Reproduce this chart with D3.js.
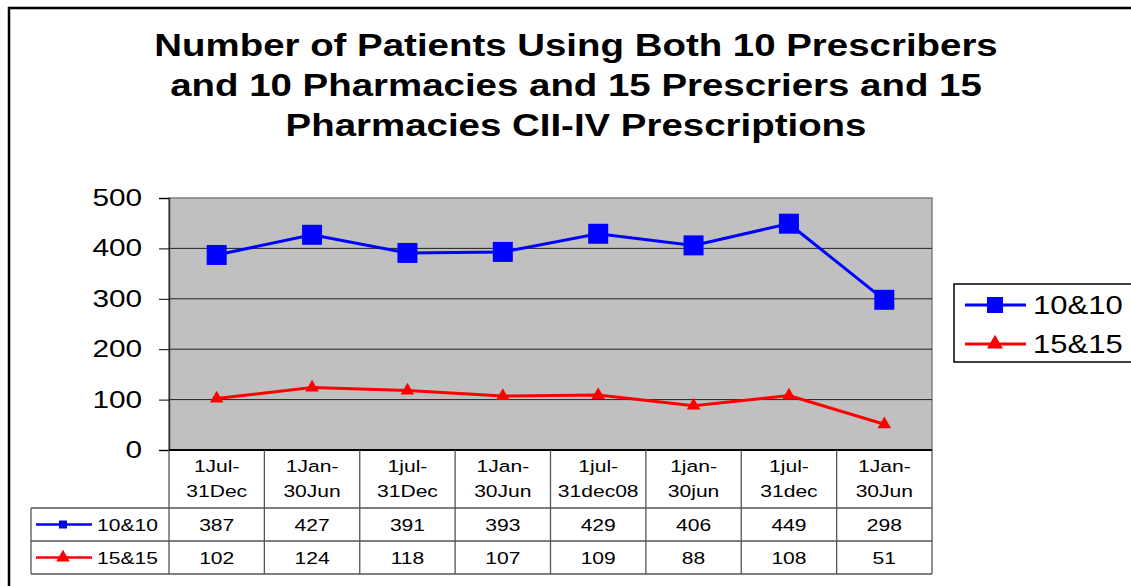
<!DOCTYPE html>
<meta charset="utf-8">
<style>
    body { margin: 0; background: #fff; }
    text { font-family: "Liberation Sans", Arial, sans-serif; fill: #000; }
    .grid line { stroke: #222; stroke-width: 1px; }
    .tbl line { stroke: #555; stroke-width: 1.3px; }
</style>
<svg width="1131" height="586"></svg>
<script src="https://cdnjs.cloudflare.com/ajax/libs/d3/7.8.5/d3.min.js"></script>
<script>

    var titleLines = ["Number of Patients Using Both 10 Prescribers",
        "and 10 Pharmacies and 15 Prescriers and 15",
        "Pharmacies CII-IV Prescriptions"];
    var categories = [["1Jul-", "31Dec"], ["1Jan-", "30Jun"], ["1jul-", "31Dec"], ["1Jan-", "30Jun"],
        ["1jul-", "31dec08"], ["1jan-", "30jun"], ["1jul-", "31dec"], ["1Jan-", "30Jun"]];
    var seriesNames = ["10&10", "15&15"];
    var values1010 = [387, 427, 391, 393, 429, 406, 449, 298];
    var values1515 = [102, 124, 118, 107, 109, 88, 108, 51];
    var yTicks = [0, 100, 200, 300, 400, 500];

    var series = [
        { name: seriesNames[0], values: values1010, color: "#0000ff", marker: "square" },
        { name: seriesNames[1], values: values1515, color: "#ff0000", marker: "triangle" }
    ];

    var svg = d3.select("svg");

    var plotL = 169, plotR = 932, plotT = 198, plotB = 450;
    var sx = 1.24; // the original text is stretched sideways

    // text drawn in a stretched group
    function addText(parent, x, y, str, size, anchor, bold) {
        var g = parent.append("g").attr("transform", "translate(" + x + "," + y + ") scale(" + sx + ",1)");
        g.append("text")
            .attr("text-anchor", anchor || "start")
            .attr("font-size", size + "px")
            .attr("font-weight", bold ? "bold" : null)
            .text(str);
        return g;
    }

    // outer border
    svg.append("rect")
        .attr("x", 9).attr("y", 8)
        .attr("width", 1140).attr("height", 600)
        .attr("fill", "none").attr("stroke", "#000").attr("stroke-width", 2.5);

    // title
    titleLines.forEach(function (t, i) {
        addText(svg, 576, 56 + i * 40, t, 31, "middle", true);
    });

    var x = d3.scaleBand().domain(d3.range(categories.length)).range([plotL, plotR]);
    var y = d3.scaleLinear().domain([0, 500]).range([plotB, plotT]);

    // plot area
    svg.append("rect")
        .attr("x", plotL).attr("y", plotT)
        .attr("width", plotR - plotL).attr("height", plotB - plotT)
        .attr("fill", "#c0c0c0").attr("stroke", "#808080").attr("stroke-width", 1.5);

    svg.append("g").attr("class", "grid")
        .selectAll("line")
        .data(yTicks.filter(function (t) { return t > 0 && t < 500; }))
        .enter().append("line")
        .attr("x1", plotL).attr("x2", plotR)
        .attr("y1", function (d) { return y(d); })
        .attr("y2", function (d) { return y(d); });

    // y axis
    var yAxis = svg.append("g")
        .attr("transform", "translate(" + plotL + ",0)")
        .call(d3.axisLeft(y).tickValues(yTicks).tickSize(10).tickFormat(""));
    yAxis.select(".domain").attr("stroke", "#333").attr("stroke-width", 1.5);
    yAxis.selectAll(".tick line").attr("stroke", "#000");
    yTicks.forEach(function (t) {
        addText(svg, 142, y(t) + 8, t, 24, "end");
    });

    // lines and markers
    var line = d3.line()
        .x(function (d, i) { return x(i) + x.bandwidth() / 2; })
        .y(function (d) { return y(d); });

    series.forEach(function (s) {
        svg.append("path")
            .datum(s.values)
            .attr("fill", "none")
            .attr("stroke", s.color)
            .attr("stroke-width", 3)
            .attr("d", line);

        var sym = s.marker === "square" ? d3.symbol().type(d3.symbolSquare).size(400)
            : d3.symbol().type(d3.symbolTriangle).size(80);
        svg.append("g").selectAll("path")
            .data(s.values)
            .enter().append("path")
            .attr("transform", function (d, i) {
                return "translate(" + (x(i) + x.bandwidth() / 2) + "," + y(d) + ")";
            })
            .attr("d", sym)
            .attr("fill", s.color);
    });

    // data table
    var tbl = svg.append("g").attr("class", "tbl");
    var rowTop = 508, rowH = 33, tblLeft = 31;

    tbl.append("line").attr("x1", plotL).attr("x2", plotR).attr("y1", plotB).attr("y2", plotB)
        .style("stroke", "#000").style("stroke-width", 2);
    [rowTop, rowTop + rowH, rowTop + 2 * rowH].forEach(function (yy) {
        tbl.append("line").attr("x1", tblLeft).attr("x2", plotR).attr("y1", yy).attr("y2", yy);
    });
    tbl.append("line").attr("x1", tblLeft).attr("x2", tblLeft).attr("y1", rowTop).attr("y2", rowTop + 2 * rowH);
    d3.range(categories.length + 1).forEach(function (i) {
        var xx = i < categories.length ? x(i) : plotR;
        tbl.append("line").attr("x1", xx).attr("x2", xx).attr("y1", plotB).attr("y2", rowTop + 2 * rowH);
    });

    // category labels
    categories.forEach(function (c, i) {
        c.forEach(function (part, j) {
            addText(tbl, x(i) + x.bandwidth() / 2, 472 + j * 25, part, 17, "middle");
        });
    });

    // value rows
    series.forEach(function (s, r) {
        var cy = rowTop + r * rowH + rowH / 2;
        s.values.forEach(function (v, i) {
            addText(tbl, x(i) + x.bandwidth() / 2, cy + 6, v, 17, "middle");
        });

        tbl.append("line").attr("x1", 36).attr("x2", 92).attr("y1", cy).attr("y2", cy)
            .style("stroke", s.color).style("stroke-width", 2.5);
        tbl.append("path")
            .attr("transform", "translate(63," + cy + ")")
            .attr("d", s.marker === "square" ? d3.symbol().type(d3.symbolSquare).size(64)
                : d3.symbol().type(d3.symbolTriangle).size(80))
            .attr("fill", s.color);
        addText(tbl, 97, cy + 6, s.name, 17, "start");
    });

    // legend
    var lg = svg.append("g");
    lg.append("rect").attr("x", 954).attr("y", 284).attr("width", 190).attr("height", 78)
        .attr("fill", "#fff").attr("stroke", "#000").attr("stroke-width", 1.5);
    series.forEach(function (s, i) {
        var cy = 305 + i * 39;
        lg.append("line").attr("x1", 965).attr("x2", 1026).attr("y1", cy).attr("y2", cy)
            .attr("stroke", s.color).attr("stroke-width", 3);
        lg.append("path")
            .attr("transform", "translate(995," + cy + ")")
            .attr("d", s.marker === "square" ? d3.symbol().type(d3.symbolSquare).size(256)
                : d3.symbol().type(d3.symbolTriangle).size(110))
            .attr("fill", s.color);
        addText(lg, 1033, cy + 9, s.name, 25, "start");
    });

</script>
